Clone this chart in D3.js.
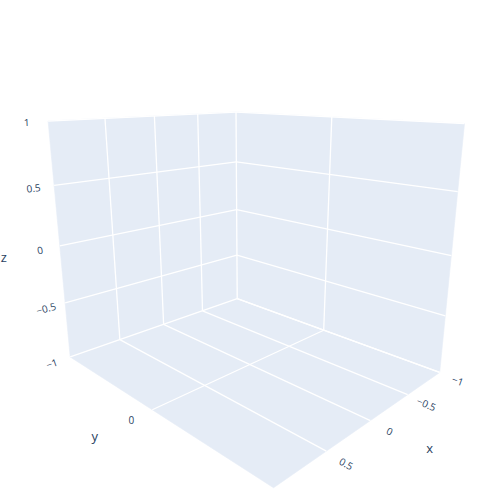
<!DOCTYPE html>
<html><head><meta charset="utf-8">
<script src="https://cdn.jsdelivr.net/npm/d3@7"></script>
<style>body{margin:0;background:#fff}svg{display:block}</style>
</head><body><svg id="chart" width="500" height="500"></svg>
<script>
// ---- data ----
const xRange = [-1, 1];
const yRange = [-1, 1];
const zRange = [-1, 1];
const xTicks = [-1, -0.5, 0, 0.5];
const yTicks = [0];
const zTicks = [-1, -0.5, 0, 0.5, 1];
const axisTitles = ["x", "y", "z"];

// ---- scene / camera (styling) ----
const aspect = [1, 1.1974, 0.9978];
const camera = {eye: [3.1458, 3.1493, 1.2833], focal: 583.22, center: [249.85, 250.59]};
const bg = "#E5ECF6", grid = "#ffffff", fontColor = "#2a3f5f", font = "'Open Sans', verdana, arial, sans-serif";

const sx = d3.scaleLinear().domain(xRange).range([-aspect[0], aspect[0]]);
const sy = d3.scaleLinear().domain(yRange).range([-aspect[1], aspect[1]]);
const sz = d3.scaleLinear().domain(zRange).range([-aspect[2], aspect[2]]);

const dot = (a, b) => a[0]*b[0] + a[1]*b[1] + a[2]*b[2];
const E = camera.eye, n = Math.hypot(...E);
const fwd = E.map(v => -v / n);
const hlen = Math.hypot(fwd[0], fwd[1]);
const right = [fwd[1]/hlen, -fwd[0]/hlen, 0];
const up = [right[1]*fwd[2]-right[2]*fwd[1], right[2]*fwd[0]-right[0]*fwd[2], right[0]*fwd[1]-right[1]*fwd[0]];
function project(x, y, z) {
  const v = [sx(x) - E[0], sy(y) - E[1], sz(z) - E[2]];
  const zc = dot(v, fwd);
  return [camera.center[0] + camera.focal * dot(v, right) / zc,
          camera.center[1] - camera.focal * dot(v, up) / zc];
}
const fmt = v => d3.format("")(v).replace("-", "\u2212");

const svg = d3.select("#chart");
const [x0, x1] = xRange, [y0, y1] = yRange, [z0, z1] = zRange;

// ---- background planes ----
const planes = [
  [[x0,y0,z0],[x1,y0,z0],[x1,y1,z0],[x0,y1,z0]],   // floor
  [[x0,y0,z0],[x1,y0,z0],[x1,y0,z1],[x0,y0,z1]],   // y = min wall
  [[x0,y0,z0],[x0,y1,z0],[x0,y1,z1],[x0,y0,z1]]    // x = min wall
];
svg.append("g").selectAll("path").data(planes).join("path")
  .attr("d", d => d3.line()(d.map(p => project(...p))) + "Z")
  .attr("fill", bg).attr("stroke", bg).attr("stroke-width", 0.6);

// ---- grid lines ----
const segs = [];
xTicks.forEach(t => { segs.push([[t,y0,z0],[t,y0,z1]]); segs.push([[t,y0,z0],[t,y1,z0]]); });
yTicks.forEach(t => { segs.push([[x0,t,z0],[x0,t,z1]]); segs.push([[x0,t,z0],[x1,t,z0]]); });
zTicks.forEach(t => { segs.push([[x0,y0,t],[x1,y0,t]]); segs.push([[x0,y0,t],[x0,y1,t]]); });
svg.append("g").selectAll("line").data(segs).join("line")
  .each(function(d){ const a = project(...d[0]), b = project(...d[1]);
    d3.select(this).attr("x1",a[0]).attr("y1",a[1]).attr("x2",b[0]).attr("y2",b[1]); })
  .attr("stroke", grid).attr("stroke-width", 1.3);

// ---- tick labels ----
const ang = (p, q) => Math.atan2(q[1]-p[1], q[0]-p[0]) * 180 / Math.PI;
const dx = (x1-x0), dy = (y1-y0), dz = (z1-z0);
const labels = [];
xTicks.forEach(t => {
  const p = project(t, y1 + 0.066*dy, z0 - 0.006*dz);
  const a = ang(project(t, y1, z0), project(t, y1 + 0.2*dy, z0));
  labels.push({p, a, text: fmt(t)});
});
yTicks.forEach(t => {
  const p = project(x1 + 0.09*dx, t, z0);
  labels.push({p, a: 0, text: fmt(t)});
});
zTicks.forEach(t => {
  const p = project(x1 + 0.085*dx, y0, t);
  const a = ang(project(x1, y0, t), project(x0, y0, t));
  labels.push({p, a, text: fmt(t)});
});
svg.append("g").selectAll("text").data(labels).join("text")
  .attr("transform", d => `translate(${d.p[0]},${d.p[1]}) rotate(${d.a})`)
  .attr("text-anchor", "middle").attr("dominant-baseline", "central")
  .attr("font-family", font).attr("font-size", 10).attr("fill", fontColor)
  .text(d => d.text);

// ---- axis titles ----
const titles = [
  {p: project((x0+x1)/2, y1 + 0.19*dy, z0), text: axisTitles[0]},
  {p: project(x1 + 0.235*dx, (y0+y1)/2, z0), text: axisTitles[1]},
  {p: project(x1 + 0.23*dx, y0, (z0+z1)/2), text: axisTitles[2]}
];
svg.append("g").selectAll("text").data(titles).join("text")
  .attr("x", d => d.p[0]).attr("y", d => d.p[1])
  .attr("text-anchor", "middle").attr("dominant-baseline", "central")
  .attr("font-family", font).attr("font-size", 13).attr("fill", fontColor)
  .text(d => d.text);
</script></body></html>
